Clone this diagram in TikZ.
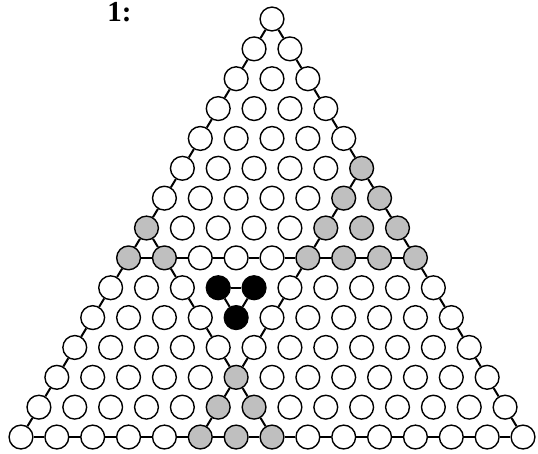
\documentclass[tikz,border=0pt]{standalone}
\usepackage{fontspec}
\setmainfont{Liberation Serif}
\tikzset{
  ball/.style={circle, draw=black, line width=1.4pt, minimum size=23.8pt, inner sep=0pt},
  wht/.style={ball, fill=white},
  gry/.style={ball, fill=gray!50},
  blk/.style={ball, fill=black},
  conn/.style={line width=2pt, draw=black},
}
\begin{document}
\begin{tikzpicture}[x=1pt,y=1pt]
\useasboundingbox (0,0) rectangle (538,453);
\node[font=\fontsize{29}{29}\selectfont\bfseries, anchor=base] (lbl) at (119.5,431) {1:};
\foreach \r in {0,...,14}{
  \foreach \k in {0,...,\r}{
    \pgfmathtruncatemacro\g{((\r>=5) && (\r<=8) && (\k>=5)) || ((\r>=7) && (\r<=8) && (\k<=\r-7)) || ((\r>=12) && (\k>=5) && (\k<=\r-7))}
    \pgfmathtruncatemacro\b{((\r==9) && ((\k==3) || (\k==4))) || ((\r==10) && (\k==4))}
    \ifnum\b=1 \def\st{blk}\else\ifnum\g=1 \def\st{gry}\else\def\st{wht}\fi\fi
    \node[\st] (n-\r-\k) at ({272+(\k-\r/2)*35.86},{434-29.86*\r}) {};
  }
}
% outer edges
\foreach \r [evaluate=\r as \rr using int(\r+1)] in {0,...,13}{
  \draw[conn] (n-\r-0) -- (n-\rr-0);
  \draw[conn] (n-\r-\r) -- (n-\rr-\rr);
  \draw[conn] (n-14-\r) -- (n-14-\rr);
}
% row 8
\foreach \k [evaluate=\k as \kk using int(\k+1)] in {0,...,7}{
  \draw[conn] (n-8-\k) -- (n-8-\kk);
}
% diagonal (7,0) to (14,7)
\foreach \i [evaluate=\i as \ra using int(7+\i), evaluate=\i as \rb using int(8+\i), evaluate=\i as \ii using int(\i+1)] in {0,...,6}{
  \draw[conn] (n-\ra-\i) -- (n-\rb-\ii);
}
% diagonal (5,5) to (14,5)
\foreach \r [evaluate=\r as \rr using int(\r+1)] in {5,...,13}{
  \draw[conn] (n-\r-5) -- (n-\rr-5);
}
% black triangle
\draw[conn] (n-9-3) -- (n-9-4);
\draw[conn] (n-9-3) -- (n-10-4);
\draw[conn] (n-9-4) -- (n-10-4);
\end{tikzpicture}
\end{document}
